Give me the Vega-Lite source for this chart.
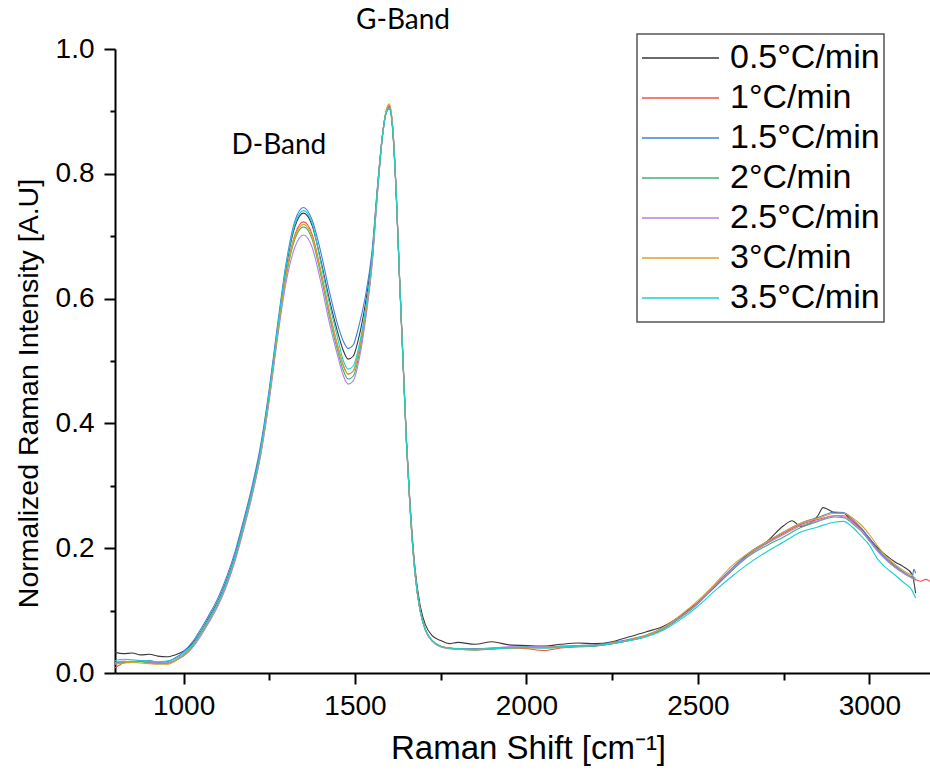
{
"$schema": "https://vega.github.io/schema/vega-lite/v6.json",
"width": 815, "height": 624,
"autosize": {"type": "none"},
"padding": {"left": 115, "top": 49, "right": 0, "bottom": 106},
"background": "white",
"config": {"view": {"stroke": null}, "font": "Liberation Sans", "legend": {"strokeWidth": 1.5}},
"layer": [
{
"data": {"values": [
{"s":"0.5°C/min","x":800,"y":0.033},{"s":"0.5°C/min","x":825,"y":0.031},{"s":"0.5°C/min","x":850,"y":0.032},{"s":"0.5°C/min","x":875,"y":0.029},{"s":"0.5°C/min","x":900,"y":0.03},{"s":"0.5°C/min","x":925,"y":0.027},{"s":"0.5°C/min","x":950,"y":0.026},{"s":"0.5°C/min","x":975,"y":0.029},{"s":"0.5°C/min","x":1000,"y":0.035},{"s":"0.5°C/min","x":1025,"y":0.047},{"s":"0.5°C/min","x":1050,"y":0.066},{"s":"0.5°C/min","x":1075,"y":0.09},{"s":"0.5°C/min","x":1100,"y":0.115},{"s":"0.5°C/min","x":1125,"y":0.147},{"s":"0.5°C/min","x":1150,"y":0.188},{"s":"0.5°C/min","x":1175,"y":0.238},{"s":"0.5°C/min","x":1200,"y":0.293},{"s":"0.5°C/min","x":1225,"y":0.36},{"s":"0.5°C/min","x":1250,"y":0.45},{"s":"0.5°C/min","x":1275,"y":0.555},{"s":"0.5°C/min","x":1300,"y":0.653},{"s":"0.5°C/min","x":1325,"y":0.716},{"s":"0.5°C/min","x":1350,"y":0.737},{"s":"0.5°C/min","x":1375,"y":0.717},{"s":"0.5°C/min","x":1400,"y":0.662},{"s":"0.5°C/min","x":1425,"y":0.599},{"s":"0.5°C/min","x":1450,"y":0.545},{"s":"0.5°C/min","x":1465,"y":0.518},{"s":"0.5°C/min","x":1480,"y":0.503},{"s":"0.5°C/min","x":1495,"y":0.508},{"s":"0.5°C/min","x":1510,"y":0.535},{"s":"0.5°C/min","x":1530,"y":0.591},{"s":"0.5°C/min","x":1550,"y":0.671},{"s":"0.5°C/min","x":1565,"y":0.773},{"s":"0.5°C/min","x":1580,"y":0.862},{"s":"0.5°C/min","x":1590,"y":0.897},{"s":"0.5°C/min","x":1600,"y":0.906},{"s":"0.5°C/min","x":1610,"y":0.872},{"s":"0.5°C/min","x":1620,"y":0.772},{"s":"0.5°C/min","x":1630,"y":0.633},{"s":"0.5°C/min","x":1640,"y":0.504},{"s":"0.5°C/min","x":1650,"y":0.375},{"s":"0.5°C/min","x":1660,"y":0.277},{"s":"0.5°C/min","x":1675,"y":0.168},{"s":"0.5°C/min","x":1690,"y":0.108},{"s":"0.5°C/min","x":1705,"y":0.078},{"s":"0.5°C/min","x":1725,"y":0.06},{"s":"0.5°C/min","x":1750,"y":0.052},{"s":"0.5°C/min","x":1775,"y":0.047},{"s":"0.5°C/min","x":1800,"y":0.049},{"s":"0.5°C/min","x":1850,"y":0.046},{"s":"0.5°C/min","x":1900,"y":0.05},{"s":"0.5°C/min","x":1950,"y":0.045},{"s":"0.5°C/min","x":2000,"y":0.044},{"s":"0.5°C/min","x":2050,"y":0.043},{"s":"0.5°C/min","x":2100,"y":0.046},{"s":"0.5°C/min","x":2150,"y":0.048},{"s":"0.5°C/min","x":2200,"y":0.047},{"s":"0.5°C/min","x":2250,"y":0.05},{"s":"0.5°C/min","x":2300,"y":0.058},{"s":"0.5°C/min","x":2350,"y":0.066},{"s":"0.5°C/min","x":2400,"y":0.075},{"s":"0.5°C/min","x":2450,"y":0.092},{"s":"0.5°C/min","x":2500,"y":0.113},{"s":"0.5°C/min","x":2550,"y":0.138},{"s":"0.5°C/min","x":2600,"y":0.165},{"s":"0.5°C/min","x":2650,"y":0.192},{"s":"0.5°C/min","x":2700,"y":0.21},{"s":"0.5°C/min","x":2750,"y":0.236},{"s":"0.5°C/min","x":2775,"y":0.244},{"s":"0.5°C/min","x":2800,"y":0.235},{"s":"0.5°C/min","x":2850,"y":0.252},{"s":"0.5°C/min","x":2865,"y":0.265},{"s":"0.5°C/min","x":2900,"y":0.257},{"s":"0.5°C/min","x":2925,"y":0.256},{"s":"0.5°C/min","x":2950,"y":0.243},{"s":"0.5°C/min","x":2975,"y":0.232},{"s":"0.5°C/min","x":3000,"y":0.216},{"s":"0.5°C/min","x":3025,"y":0.2},{"s":"0.5°C/min","x":3050,"y":0.188},{"s":"0.5°C/min","x":3075,"y":0.178},{"s":"0.5°C/min","x":3100,"y":0.17},{"s":"0.5°C/min","x":3125,"y":0.158},{"s":"0.5°C/min","x":3135,"y":0.128},
{"s":"1°C/min","x":800,"y":0.008},{"s":"1°C/min","x":825,"y":0.016},{"s":"1°C/min","x":850,"y":0.018},{"s":"1°C/min","x":875,"y":0.019},{"s":"1°C/min","x":900,"y":0.017},{"s":"1°C/min","x":925,"y":0.016},{"s":"1°C/min","x":950,"y":0.015},{"s":"1°C/min","x":975,"y":0.02},{"s":"1°C/min","x":1000,"y":0.029},{"s":"1°C/min","x":1025,"y":0.044},{"s":"1°C/min","x":1050,"y":0.064},{"s":"1°C/min","x":1075,"y":0.087},{"s":"1°C/min","x":1100,"y":0.112},{"s":"1°C/min","x":1125,"y":0.144},{"s":"1°C/min","x":1150,"y":0.184},{"s":"1°C/min","x":1175,"y":0.234},{"s":"1°C/min","x":1200,"y":0.289},{"s":"1°C/min","x":1225,"y":0.354},{"s":"1°C/min","x":1250,"y":0.444},{"s":"1°C/min","x":1275,"y":0.549},{"s":"1°C/min","x":1300,"y":0.643},{"s":"1°C/min","x":1325,"y":0.703},{"s":"1°C/min","x":1350,"y":0.723},{"s":"1°C/min","x":1375,"y":0.703},{"s":"1°C/min","x":1400,"y":0.645},{"s":"1°C/min","x":1425,"y":0.58},{"s":"1°C/min","x":1450,"y":0.523},{"s":"1°C/min","x":1465,"y":0.494},{"s":"1°C/min","x":1480,"y":0.479},{"s":"1°C/min","x":1495,"y":0.484},{"s":"1°C/min","x":1510,"y":0.513},{"s":"1°C/min","x":1530,"y":0.574},{"s":"1°C/min","x":1550,"y":0.662},{"s":"1°C/min","x":1565,"y":0.768},{"s":"1°C/min","x":1580,"y":0.86},{"s":"1°C/min","x":1590,"y":0.897},{"s":"1°C/min","x":1600,"y":0.908},{"s":"1°C/min","x":1610,"y":0.873},{"s":"1°C/min","x":1620,"y":0.772},{"s":"1°C/min","x":1630,"y":0.632},{"s":"1°C/min","x":1640,"y":0.501},{"s":"1°C/min","x":1650,"y":0.37},{"s":"1°C/min","x":1660,"y":0.27},{"s":"1°C/min","x":1675,"y":0.16},{"s":"1°C/min","x":1690,"y":0.1},{"s":"1°C/min","x":1705,"y":0.069},{"s":"1°C/min","x":1725,"y":0.051},{"s":"1°C/min","x":1750,"y":0.042},{"s":"1°C/min","x":1775,"y":0.039},{"s":"1°C/min","x":1800,"y":0.038},{"s":"1°C/min","x":1850,"y":0.037},{"s":"1°C/min","x":1900,"y":0.038},{"s":"1°C/min","x":1950,"y":0.04},{"s":"1°C/min","x":2000,"y":0.039},{"s":"1°C/min","x":2050,"y":0.036},{"s":"1°C/min","x":2100,"y":0.04},{"s":"1°C/min","x":2150,"y":0.042},{"s":"1°C/min","x":2200,"y":0.043},{"s":"1°C/min","x":2250,"y":0.047},{"s":"1°C/min","x":2300,"y":0.052},{"s":"1°C/min","x":2350,"y":0.06},{"s":"1°C/min","x":2400,"y":0.071},{"s":"1°C/min","x":2450,"y":0.09},{"s":"1°C/min","x":2500,"y":0.113},{"s":"1°C/min","x":2550,"y":0.14},{"s":"1°C/min","x":2600,"y":0.165},{"s":"1°C/min","x":2650,"y":0.19},{"s":"1°C/min","x":2700,"y":0.208},{"s":"1°C/min","x":2750,"y":0.224},{"s":"1°C/min","x":2800,"y":0.238},{"s":"1°C/min","x":2850,"y":0.246},{"s":"1°C/min","x":2900,"y":0.252},{"s":"1°C/min","x":2925,"y":0.252},{"s":"1°C/min","x":2950,"y":0.244},{"s":"1°C/min","x":2975,"y":0.232},{"s":"1°C/min","x":3000,"y":0.214},{"s":"1°C/min","x":3025,"y":0.196},{"s":"1°C/min","x":3050,"y":0.182},{"s":"1°C/min","x":3075,"y":0.17},{"s":"1°C/min","x":3100,"y":0.16},{"s":"1°C/min","x":3125,"y":0.152},{"s":"1°C/min","x":3135,"y":0.15},{"s":"1°C/min","x":3150,"y":0.147},{"s":"1°C/min","x":3165,"y":0.15},{"s":"1°C/min","x":3180,"y":0.145},
{"s":"1.5°C/min","x":800,"y":0.016},{"s":"1.5°C/min","x":825,"y":0.018},{"s":"1.5°C/min","x":850,"y":0.017},{"s":"1.5°C/min","x":875,"y":0.019},{"s":"1.5°C/min","x":900,"y":0.02},{"s":"1.5°C/min","x":925,"y":0.017},{"s":"1.5°C/min","x":950,"y":0.018},{"s":"1.5°C/min","x":975,"y":0.024},{"s":"1.5°C/min","x":1000,"y":0.034},{"s":"1.5°C/min","x":1025,"y":0.049},{"s":"1.5°C/min","x":1050,"y":0.07},{"s":"1.5°C/min","x":1075,"y":0.094},{"s":"1.5°C/min","x":1100,"y":0.12},{"s":"1.5°C/min","x":1125,"y":0.153},{"s":"1.5°C/min","x":1150,"y":0.194},{"s":"1.5°C/min","x":1175,"y":0.245},{"s":"1.5°C/min","x":1200,"y":0.3},{"s":"1.5°C/min","x":1225,"y":0.366},{"s":"1.5°C/min","x":1250,"y":0.456},{"s":"1.5°C/min","x":1275,"y":0.562},{"s":"1.5°C/min","x":1300,"y":0.66},{"s":"1.5°C/min","x":1325,"y":0.725},{"s":"1.5°C/min","x":1350,"y":0.746},{"s":"1.5°C/min","x":1375,"y":0.726},{"s":"1.5°C/min","x":1400,"y":0.675},{"s":"1.5°C/min","x":1425,"y":0.612},{"s":"1.5°C/min","x":1450,"y":0.557},{"s":"1.5°C/min","x":1465,"y":0.533},{"s":"1.5°C/min","x":1480,"y":0.52},{"s":"1.5°C/min","x":1495,"y":0.526},{"s":"1.5°C/min","x":1510,"y":0.553},{"s":"1.5°C/min","x":1530,"y":0.603},{"s":"1.5°C/min","x":1550,"y":0.678},{"s":"1.5°C/min","x":1565,"y":0.777},{"s":"1.5°C/min","x":1580,"y":0.862},{"s":"1.5°C/min","x":1590,"y":0.897},{"s":"1.5°C/min","x":1600,"y":0.904},{"s":"1.5°C/min","x":1610,"y":0.868},{"s":"1.5°C/min","x":1620,"y":0.768},{"s":"1.5°C/min","x":1630,"y":0.628},{"s":"1.5°C/min","x":1640,"y":0.5},{"s":"1.5°C/min","x":1650,"y":0.37},{"s":"1.5°C/min","x":1660,"y":0.27},{"s":"1.5°C/min","x":1675,"y":0.161},{"s":"1.5°C/min","x":1690,"y":0.1},{"s":"1.5°C/min","x":1705,"y":0.07},{"s":"1.5°C/min","x":1725,"y":0.052},{"s":"1.5°C/min","x":1750,"y":0.043},{"s":"1.5°C/min","x":1775,"y":0.04},{"s":"1.5°C/min","x":1800,"y":0.039},{"s":"1.5°C/min","x":1850,"y":0.039},{"s":"1.5°C/min","x":1900,"y":0.04},{"s":"1.5°C/min","x":1950,"y":0.041},{"s":"1.5°C/min","x":2000,"y":0.042},{"s":"1.5°C/min","x":2050,"y":0.041},{"s":"1.5°C/min","x":2100,"y":0.043},{"s":"1.5°C/min","x":2150,"y":0.044},{"s":"1.5°C/min","x":2200,"y":0.045},{"s":"1.5°C/min","x":2250,"y":0.049},{"s":"1.5°C/min","x":2300,"y":0.054},{"s":"1.5°C/min","x":2350,"y":0.061},{"s":"1.5°C/min","x":2400,"y":0.073},{"s":"1.5°C/min","x":2450,"y":0.09},{"s":"1.5°C/min","x":2500,"y":0.112},{"s":"1.5°C/min","x":2550,"y":0.141},{"s":"1.5°C/min","x":2600,"y":0.168},{"s":"1.5°C/min","x":2650,"y":0.193},{"s":"1.5°C/min","x":2700,"y":0.21},{"s":"1.5°C/min","x":2750,"y":0.226},{"s":"1.5°C/min","x":2800,"y":0.24},{"s":"1.5°C/min","x":2850,"y":0.249},{"s":"1.5°C/min","x":2900,"y":0.258},{"s":"1.5°C/min","x":2925,"y":0.257},{"s":"1.5°C/min","x":2950,"y":0.247},{"s":"1.5°C/min","x":2975,"y":0.233},{"s":"1.5°C/min","x":3000,"y":0.216},{"s":"1.5°C/min","x":3025,"y":0.198},{"s":"1.5°C/min","x":3050,"y":0.184},{"s":"1.5°C/min","x":3075,"y":0.172},{"s":"1.5°C/min","x":3100,"y":0.162},{"s":"1.5°C/min","x":3125,"y":0.154},{"s":"1.5°C/min","x":3130,"y":0.166},{"s":"1.5°C/min","x":3135,"y":0.16},
{"s":"2°C/min","x":800,"y":0.015},{"s":"2°C/min","x":825,"y":0.017},{"s":"2°C/min","x":850,"y":0.018},{"s":"2°C/min","x":875,"y":0.018},{"s":"2°C/min","x":900,"y":0.016},{"s":"2°C/min","x":925,"y":0.015},{"s":"2°C/min","x":950,"y":0.016},{"s":"2°C/min","x":975,"y":0.02},{"s":"2°C/min","x":1000,"y":0.028},{"s":"2°C/min","x":1025,"y":0.042},{"s":"2°C/min","x":1050,"y":0.062},{"s":"2°C/min","x":1075,"y":0.085},{"s":"2°C/min","x":1100,"y":0.11},{"s":"2°C/min","x":1125,"y":0.142},{"s":"2°C/min","x":1150,"y":0.182},{"s":"2°C/min","x":1175,"y":0.232},{"s":"2°C/min","x":1200,"y":0.287},{"s":"2°C/min","x":1225,"y":0.352},{"s":"2°C/min","x":1250,"y":0.441},{"s":"2°C/min","x":1275,"y":0.545},{"s":"2°C/min","x":1300,"y":0.638},{"s":"2°C/min","x":1325,"y":0.696},{"s":"2°C/min","x":1350,"y":0.715},{"s":"2°C/min","x":1375,"y":0.695},{"s":"2°C/min","x":1400,"y":0.638},{"s":"2°C/min","x":1425,"y":0.572},{"s":"2°C/min","x":1450,"y":0.515},{"s":"2°C/min","x":1465,"y":0.486},{"s":"2°C/min","x":1480,"y":0.471},{"s":"2°C/min","x":1495,"y":0.476},{"s":"2°C/min","x":1510,"y":0.505},{"s":"2°C/min","x":1530,"y":0.569},{"s":"2°C/min","x":1550,"y":0.659},{"s":"2°C/min","x":1565,"y":0.767},{"s":"2°C/min","x":1580,"y":0.86},{"s":"2°C/min","x":1590,"y":0.896},{"s":"2°C/min","x":1600,"y":0.906},{"s":"2°C/min","x":1610,"y":0.871},{"s":"2°C/min","x":1620,"y":0.771},{"s":"2°C/min","x":1630,"y":0.631},{"s":"2°C/min","x":1640,"y":0.5},{"s":"2°C/min","x":1650,"y":0.371},{"s":"2°C/min","x":1660,"y":0.271},{"s":"2°C/min","x":1675,"y":0.16},{"s":"2°C/min","x":1690,"y":0.1},{"s":"2°C/min","x":1705,"y":0.07},{"s":"2°C/min","x":1725,"y":0.052},{"s":"2°C/min","x":1750,"y":0.043},{"s":"2°C/min","x":1775,"y":0.04},{"s":"2°C/min","x":1800,"y":0.038},{"s":"2°C/min","x":1850,"y":0.037},{"s":"2°C/min","x":1900,"y":0.039},{"s":"2°C/min","x":1950,"y":0.04},{"s":"2°C/min","x":2000,"y":0.041},{"s":"2°C/min","x":2050,"y":0.04},{"s":"2°C/min","x":2100,"y":0.041},{"s":"2°C/min","x":2150,"y":0.042},{"s":"2°C/min","x":2200,"y":0.043},{"s":"2°C/min","x":2250,"y":0.047},{"s":"2°C/min","x":2300,"y":0.052},{"s":"2°C/min","x":2350,"y":0.059},{"s":"2°C/min","x":2400,"y":0.071},{"s":"2°C/min","x":2450,"y":0.089},{"s":"2°C/min","x":2500,"y":0.111},{"s":"2°C/min","x":2550,"y":0.139},{"s":"2°C/min","x":2600,"y":0.165},{"s":"2°C/min","x":2650,"y":0.188},{"s":"2°C/min","x":2700,"y":0.204},{"s":"2°C/min","x":2750,"y":0.218},{"s":"2°C/min","x":2800,"y":0.233},{"s":"2°C/min","x":2850,"y":0.243},{"s":"2°C/min","x":2900,"y":0.25},{"s":"2°C/min","x":2925,"y":0.249},{"s":"2°C/min","x":2950,"y":0.24},{"s":"2°C/min","x":2975,"y":0.228},{"s":"2°C/min","x":3000,"y":0.212},{"s":"2°C/min","x":3025,"y":0.195},{"s":"2°C/min","x":3050,"y":0.181},{"s":"2°C/min","x":3075,"y":0.17},{"s":"2°C/min","x":3100,"y":0.161},{"s":"2°C/min","x":3125,"y":0.153},{"s":"2°C/min","x":3135,"y":0.15},
{"s":"2.5°C/min","x":800,"y":0.017},{"s":"2.5°C/min","x":825,"y":0.019},{"s":"2.5°C/min","x":850,"y":0.018},{"s":"2.5°C/min","x":875,"y":0.02},{"s":"2.5°C/min","x":900,"y":0.018},{"s":"2.5°C/min","x":925,"y":0.016},{"s":"2.5°C/min","x":950,"y":0.016},{"s":"2.5°C/min","x":975,"y":0.02},{"s":"2.5°C/min","x":1000,"y":0.027},{"s":"2.5°C/min","x":1025,"y":0.04},{"s":"2.5°C/min","x":1050,"y":0.059},{"s":"2.5°C/min","x":1075,"y":0.082},{"s":"2.5°C/min","x":1100,"y":0.107},{"s":"2.5°C/min","x":1125,"y":0.139},{"s":"2.5°C/min","x":1150,"y":0.179},{"s":"2.5°C/min","x":1175,"y":0.229},{"s":"2.5°C/min","x":1200,"y":0.284},{"s":"2.5°C/min","x":1225,"y":0.349},{"s":"2.5°C/min","x":1250,"y":0.437},{"s":"2.5°C/min","x":1275,"y":0.541},{"s":"2.5°C/min","x":1300,"y":0.629},{"s":"2.5°C/min","x":1325,"y":0.683},{"s":"2.5°C/min","x":1350,"y":0.702},{"s":"2.5°C/min","x":1375,"y":0.682},{"s":"2.5°C/min","x":1400,"y":0.627},{"s":"2.5°C/min","x":1425,"y":0.562},{"s":"2.5°C/min","x":1450,"y":0.507},{"s":"2.5°C/min","x":1465,"y":0.478},{"s":"2.5°C/min","x":1480,"y":0.463},{"s":"2.5°C/min","x":1495,"y":0.468},{"s":"2.5°C/min","x":1510,"y":0.497},{"s":"2.5°C/min","x":1530,"y":0.563},{"s":"2.5°C/min","x":1550,"y":0.655},{"s":"2.5°C/min","x":1565,"y":0.765},{"s":"2.5°C/min","x":1580,"y":0.86},{"s":"2.5°C/min","x":1590,"y":0.897},{"s":"2.5°C/min","x":1600,"y":0.91},{"s":"2.5°C/min","x":1610,"y":0.875},{"s":"2.5°C/min","x":1620,"y":0.774},{"s":"2.5°C/min","x":1630,"y":0.633},{"s":"2.5°C/min","x":1640,"y":0.502},{"s":"2.5°C/min","x":1650,"y":0.372},{"s":"2.5°C/min","x":1660,"y":0.271},{"s":"2.5°C/min","x":1675,"y":0.16},{"s":"2.5°C/min","x":1690,"y":0.1},{"s":"2.5°C/min","x":1705,"y":0.069},{"s":"2.5°C/min","x":1725,"y":0.051},{"s":"2.5°C/min","x":1750,"y":0.042},{"s":"2.5°C/min","x":1775,"y":0.04},{"s":"2.5°C/min","x":1800,"y":0.039},{"s":"2.5°C/min","x":1850,"y":0.038},{"s":"2.5°C/min","x":1900,"y":0.04},{"s":"2.5°C/min","x":1950,"y":0.042},{"s":"2.5°C/min","x":2000,"y":0.041},{"s":"2.5°C/min","x":2050,"y":0.043},{"s":"2.5°C/min","x":2100,"y":0.041},{"s":"2.5°C/min","x":2150,"y":0.043},{"s":"2.5°C/min","x":2200,"y":0.044},{"s":"2.5°C/min","x":2250,"y":0.048},{"s":"2.5°C/min","x":2300,"y":0.053},{"s":"2.5°C/min","x":2350,"y":0.06},{"s":"2.5°C/min","x":2400,"y":0.072},{"s":"2.5°C/min","x":2450,"y":0.09},{"s":"2.5°C/min","x":2500,"y":0.112},{"s":"2.5°C/min","x":2550,"y":0.14},{"s":"2.5°C/min","x":2600,"y":0.166},{"s":"2.5°C/min","x":2650,"y":0.19},{"s":"2.5°C/min","x":2700,"y":0.207},{"s":"2.5°C/min","x":2750,"y":0.222},{"s":"2.5°C/min","x":2800,"y":0.236},{"s":"2.5°C/min","x":2850,"y":0.244},{"s":"2.5°C/min","x":2900,"y":0.252},{"s":"2.5°C/min","x":2925,"y":0.25},{"s":"2.5°C/min","x":2950,"y":0.242},{"s":"2.5°C/min","x":2975,"y":0.229},{"s":"2.5°C/min","x":3000,"y":0.212},{"s":"2.5°C/min","x":3025,"y":0.195},{"s":"2.5°C/min","x":3050,"y":0.181},{"s":"2.5°C/min","x":3075,"y":0.169},{"s":"2.5°C/min","x":3100,"y":0.16},{"s":"2.5°C/min","x":3125,"y":0.152},{"s":"2.5°C/min","x":3135,"y":0.148},
{"s":"3°C/min","x":800,"y":0.014},{"s":"3°C/min","x":825,"y":0.016},{"s":"3°C/min","x":850,"y":0.017},{"s":"3°C/min","x":875,"y":0.016},{"s":"3°C/min","x":900,"y":0.015},{"s":"3°C/min","x":925,"y":0.014},{"s":"3°C/min","x":950,"y":0.014},{"s":"3°C/min","x":975,"y":0.019},{"s":"3°C/min","x":1000,"y":0.029},{"s":"3°C/min","x":1025,"y":0.044},{"s":"3°C/min","x":1050,"y":0.064},{"s":"3°C/min","x":1075,"y":0.087},{"s":"3°C/min","x":1100,"y":0.112},{"s":"3°C/min","x":1125,"y":0.144},{"s":"3°C/min","x":1150,"y":0.184},{"s":"3°C/min","x":1175,"y":0.234},{"s":"3°C/min","x":1200,"y":0.289},{"s":"3°C/min","x":1225,"y":0.354},{"s":"3°C/min","x":1250,"y":0.443},{"s":"3°C/min","x":1275,"y":0.548},{"s":"3°C/min","x":1300,"y":0.641},{"s":"3°C/min","x":1325,"y":0.7},{"s":"3°C/min","x":1350,"y":0.719},{"s":"3°C/min","x":1375,"y":0.699},{"s":"3°C/min","x":1400,"y":0.643},{"s":"3°C/min","x":1425,"y":0.579},{"s":"3°C/min","x":1450,"y":0.523},{"s":"3°C/min","x":1465,"y":0.494},{"s":"3°C/min","x":1480,"y":0.479},{"s":"3°C/min","x":1495,"y":0.484},{"s":"3°C/min","x":1510,"y":0.513},{"s":"3°C/min","x":1530,"y":0.574},{"s":"3°C/min","x":1550,"y":0.662},{"s":"3°C/min","x":1565,"y":0.769},{"s":"3°C/min","x":1580,"y":0.861},{"s":"3°C/min","x":1590,"y":0.9},{"s":"3°C/min","x":1600,"y":0.912},{"s":"3°C/min","x":1610,"y":0.876},{"s":"3°C/min","x":1620,"y":0.774},{"s":"3°C/min","x":1630,"y":0.633},{"s":"3°C/min","x":1640,"y":0.501},{"s":"3°C/min","x":1650,"y":0.37},{"s":"3°C/min","x":1660,"y":0.27},{"s":"3°C/min","x":1675,"y":0.16},{"s":"3°C/min","x":1690,"y":0.1},{"s":"3°C/min","x":1705,"y":0.07},{"s":"3°C/min","x":1725,"y":0.052},{"s":"3°C/min","x":1750,"y":0.043},{"s":"3°C/min","x":1775,"y":0.04},{"s":"3°C/min","x":1800,"y":0.038},{"s":"3°C/min","x":1850,"y":0.038},{"s":"3°C/min","x":1900,"y":0.039},{"s":"3°C/min","x":1950,"y":0.04},{"s":"3°C/min","x":2000,"y":0.04},{"s":"3°C/min","x":2050,"y":0.041},{"s":"3°C/min","x":2100,"y":0.042},{"s":"3°C/min","x":2150,"y":0.043},{"s":"3°C/min","x":2200,"y":0.044},{"s":"3°C/min","x":2250,"y":0.048},{"s":"3°C/min","x":2300,"y":0.053},{"s":"3°C/min","x":2350,"y":0.06},{"s":"3°C/min","x":2400,"y":0.073},{"s":"3°C/min","x":2450,"y":0.093},{"s":"3°C/min","x":2500,"y":0.116},{"s":"3°C/min","x":2550,"y":0.143},{"s":"3°C/min","x":2600,"y":0.172},{"s":"3°C/min","x":2650,"y":0.193},{"s":"3°C/min","x":2700,"y":0.21},{"s":"3°C/min","x":2750,"y":0.226},{"s":"3°C/min","x":2800,"y":0.24},{"s":"3°C/min","x":2850,"y":0.248},{"s":"3°C/min","x":2900,"y":0.256},{"s":"3°C/min","x":2925,"y":0.256},{"s":"3°C/min","x":2950,"y":0.249},{"s":"3°C/min","x":2975,"y":0.238},{"s":"3°C/min","x":3000,"y":0.222},{"s":"3°C/min","x":3025,"y":0.203},{"s":"3°C/min","x":3050,"y":0.186},{"s":"3°C/min","x":3075,"y":0.174},{"s":"3°C/min","x":3100,"y":0.164},{"s":"3°C/min","x":3125,"y":0.156},{"s":"3°C/min","x":3135,"y":0.152},
{"s":"3.5°C/min","x":800,"y":0.02},{"s":"3.5°C/min","x":825,"y":0.022},{"s":"3.5°C/min","x":850,"y":0.021},{"s":"3.5°C/min","x":875,"y":0.02},{"s":"3.5°C/min","x":900,"y":0.019},{"s":"3.5°C/min","x":925,"y":0.018},{"s":"3.5°C/min","x":950,"y":0.019},{"s":"3.5°C/min","x":975,"y":0.023},{"s":"3.5°C/min","x":1000,"y":0.031},{"s":"3.5°C/min","x":1025,"y":0.045},{"s":"3.5°C/min","x":1050,"y":0.065},{"s":"3.5°C/min","x":1075,"y":0.088},{"s":"3.5°C/min","x":1100,"y":0.113},{"s":"3.5°C/min","x":1125,"y":0.145},{"s":"3.5°C/min","x":1150,"y":0.186},{"s":"3.5°C/min","x":1175,"y":0.237},{"s":"3.5°C/min","x":1200,"y":0.292},{"s":"3.5°C/min","x":1225,"y":0.358},{"s":"3.5°C/min","x":1250,"y":0.449},{"s":"3.5°C/min","x":1275,"y":0.556},{"s":"3.5°C/min","x":1300,"y":0.656},{"s":"3.5°C/min","x":1325,"y":0.72},{"s":"3.5°C/min","x":1350,"y":0.741},{"s":"3.5°C/min","x":1375,"y":0.721},{"s":"3.5°C/min","x":1400,"y":0.658},{"s":"3.5°C/min","x":1425,"y":0.593},{"s":"3.5°C/min","x":1450,"y":0.535},{"s":"3.5°C/min","x":1465,"y":0.502},{"s":"3.5°C/min","x":1480,"y":0.487},{"s":"3.5°C/min","x":1495,"y":0.492},{"s":"3.5°C/min","x":1510,"y":0.52},{"s":"3.5°C/min","x":1530,"y":0.58},{"s":"3.5°C/min","x":1550,"y":0.665},{"s":"3.5°C/min","x":1565,"y":0.77},{"s":"3.5°C/min","x":1580,"y":0.86},{"s":"3.5°C/min","x":1590,"y":0.896},{"s":"3.5°C/min","x":1600,"y":0.905},{"s":"3.5°C/min","x":1610,"y":0.872},{"s":"3.5°C/min","x":1620,"y":0.772},{"s":"3.5°C/min","x":1630,"y":0.632},{"s":"3.5°C/min","x":1640,"y":0.5},{"s":"3.5°C/min","x":1650,"y":0.37},{"s":"3.5°C/min","x":1660,"y":0.27},{"s":"3.5°C/min","x":1675,"y":0.16},{"s":"3.5°C/min","x":1690,"y":0.1},{"s":"3.5°C/min","x":1705,"y":0.07},{"s":"3.5°C/min","x":1725,"y":0.052},{"s":"3.5°C/min","x":1750,"y":0.043},{"s":"3.5°C/min","x":1775,"y":0.04},{"s":"3.5°C/min","x":1800,"y":0.039},{"s":"3.5°C/min","x":1850,"y":0.038},{"s":"3.5°C/min","x":1900,"y":0.039},{"s":"3.5°C/min","x":1950,"y":0.04},{"s":"3.5°C/min","x":2000,"y":0.041},{"s":"3.5°C/min","x":2050,"y":0.04},{"s":"3.5°C/min","x":2100,"y":0.042},{"s":"3.5°C/min","x":2150,"y":0.043},{"s":"3.5°C/min","x":2200,"y":0.044},{"s":"3.5°C/min","x":2250,"y":0.047},{"s":"3.5°C/min","x":2300,"y":0.052},{"s":"3.5°C/min","x":2350,"y":0.058},{"s":"3.5°C/min","x":2400,"y":0.069},{"s":"3.5°C/min","x":2450,"y":0.086},{"s":"3.5°C/min","x":2500,"y":0.107},{"s":"3.5°C/min","x":2550,"y":0.132},{"s":"3.5°C/min","x":2600,"y":0.155},{"s":"3.5°C/min","x":2650,"y":0.176},{"s":"3.5°C/min","x":2700,"y":0.194},{"s":"3.5°C/min","x":2750,"y":0.21},{"s":"3.5°C/min","x":2800,"y":0.226},{"s":"3.5°C/min","x":2850,"y":0.234},{"s":"3.5°C/min","x":2900,"y":0.242},{"s":"3.5°C/min","x":2925,"y":0.243},{"s":"3.5°C/min","x":2950,"y":0.234},{"s":"3.5°C/min","x":2975,"y":0.22},{"s":"3.5°C/min","x":3000,"y":0.205},{"s":"3.5°C/min","x":3025,"y":0.182},{"s":"3.5°C/min","x":3050,"y":0.168},{"s":"3.5°C/min","x":3075,"y":0.157},{"s":"3.5°C/min","x":3100,"y":0.145},{"s":"3.5°C/min","x":3125,"y":0.132},{"s":"3.5°C/min","x":3135,"y":0.12}
]},
"mark": {"type": "line", "strokeWidth": 1.1, "clip": true, "interpolate": "monotone"},
"encoding": {
"x": {"field": "x", "type": "quantitative",
 "scale": {"domain": [800, 3177], "nice": false, "zero": false},
 "axis": {"title": "Raman Shift [cm⁻¹]", "values": [1000,1250,1500,1750,2000,2250,2500,2750,3000], "format": "d",
  "labelExpr": "datum.value % 500 == 0 ? datum.label : ''",
  "tickSize": 11, "tickWidth": 2, "tickColor": "black",
  "tickDash": {"condition": {"test": "datum.value % 500 != 0", "value": [7, 30]}, "value": [20, 0]},
  "domainColor": "black", "domainWidth": 2, "grid": false,
  "labelFontSize": 28, "labelColor": "black", "labelPadding": 8,
  "titleFontSize": 33, "titleFontWeight": "normal", "titleColor": "black", "titlePadding": 12, "titleX": 413}},
"y": {"field": "y", "type": "quantitative",
 "scale": {"domain": [0, 1], "nice": false},
 "axis": {"title": "Normalized Raman Intensity [A.U]", "values": [0,0.1,0.2,0.3,0.4,0.5,0.6,0.7,0.8,0.9,1.0],
  "labelExpr": "round(datum.value*10) % 2 == 0 ? format(datum.value, '.1f') : ''",
  "tickSize": 11, "tickWidth": 2, "tickColor": "black",
  "tickDash": {"condition": {"test": "round(datum.value*10) % 2 == 1", "value": [5, 30]}, "value": [20, 0]},
  "domainColor": "black", "domainWidth": 2, "grid": false,
  "labelFontSize": 28, "labelColor": "black", "labelPadding": 10,
  "titleFontSize": 28.5, "titleFontWeight": "normal", "titleColor": "black", "titlePadding": 12, "titleY": 344}},
"color": {"field": "s", "type": "nominal",
 "scale": {"domain": ["0.5°C/min","1°C/min","1.5°C/min","2°C/min","2.5°C/min","3°C/min","3.5°C/min"],
  "range": ["#3a3a3a","#f0524a","#3f7fe3","#3cb371","#b47fe6","#d8a520","#1ccfcf"]},
 "legend": {"orient": "none", "legendX": 522, "legendY": -15, "title": null,
  "symbolType": "stroke", "symbolSize": 5929, "symbolStrokeWidth": 1.5, "clipHeight": 40,
  "labelFontSize": 34, "labelColor": "black", "labelOffset": 10, "rowPadding": 0, "padding": 4,
  "strokeColor": "#555555", "fillColor": "white", "labelLimit": 400}}
}
},
{
"data": {"values": [{"label": "G-Band", "x": 1640, "y": 1.045}, {"label": "D-Band", "x": 1278, "y": 0.845}]},
"mark": {"type": "text", "font": "Lato", "fontSize": 28, "align": "center", "baseline": "middle", "color": "black"},
"encoding": {
"x": {"field": "x", "type": "quantitative"},
"y": {"field": "y", "type": "quantitative"},
"text": {"field": "label"}
}
}
]
}
